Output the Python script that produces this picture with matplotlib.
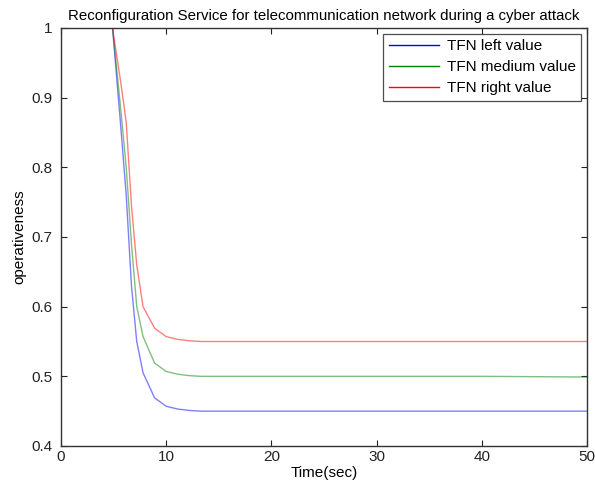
import matplotlib
matplotlib.use("Agg")
import matplotlib.pyplot as plt
from matplotlib.ticker import FixedLocator, FixedFormatter

plt.rcParams['font.family'] = ['Liberation Sans', 'DejaVu Sans']

# Simulation time (s) and operativeness for each TFN bound
time_sec = [0, 4.9, 5.7, 6.2, 6.7, 7.2, 7.8, 8.9, 10.0, 11.1, 12.2, 13.3, 20, 30, 40, 50]
tfn_left = [1.0, 1.0, 0.855, 0.76, 0.63, 0.55, 0.505, 0.469, 0.457, 0.453, 0.451, 0.45,
            0.45, 0.45, 0.45, 0.45]
tfn_medium = [1.0, 1.0, 0.88, 0.80, 0.69, 0.60, 0.557, 0.519, 0.507, 0.503, 0.501, 0.50,
              0.50, 0.50, 0.50, 0.499]
tfn_right = [1.0, 1.0, 0.92, 0.865, 0.745, 0.66, 0.60, 0.569, 0.557, 0.553, 0.551, 0.55,
             0.55, 0.55, 0.55, 0.55]

series_labels = ["TFN left value", "TFN medium value", "TFN right value"]
series_colors = ["#0000ff", "#008000", "#ff0000"]

x_ticks = [0, 10, 20, 30, 40, 50]
y_ticks = [0.4, 0.5, 0.6, 0.7, 0.8, 0.9, 1.0]
y_tick_labels = ["0.4", "0.5", "0.6", "0.7", "0.8", "0.9", "1"]

fig = plt.figure(figsize=(5.95, 4.9), dpi=100)
ax = fig.add_axes([0.1025, 0.0898, 0.8841, 0.8531])

for values, label, color in zip([tfn_left, tfn_medium, tfn_right], series_labels, series_colors):
    ax.plot(time_sec, values, color=color, lw=1.0, alpha=0.5, label=label)

ax.set_xlim(0, 50)
ax.set_ylim(0.4, 1.0)
ax.xaxis.set_major_locator(FixedLocator(x_ticks))
ax.yaxis.set_major_locator(FixedLocator(y_ticks))
ax.yaxis.set_major_formatter(FixedFormatter(y_tick_labels))
ax.tick_params(direction='in', length=4, width=0.8, top=True, right=True,
               labelsize=11, colors='#222222')
ax.tick_params(axis='y', pad=6)
ax.tick_params(axis='x', pad=3)

for sp in ax.spines.values():
    sp.set_color('#333333')
    sp.set_linewidth(1.0)

ax.set_title("Reconfiguration Service for telecommunication network during a cyber attack",
             fontsize=10.8, pad=6)
ax.set_xlabel("Time(sec)", fontsize=11, labelpad=1)
ax.set_ylabel("operativeness", fontsize=11, labelpad=4)

leg = ax.legend(loc='upper right', fontsize=11, frameon=True, fancybox=False,
                edgecolor='#222222', borderaxespad=0.4, handlelength=3.3,
                borderpad=0.35, labelspacing=0.45, handletextpad=0.5)
leg.get_frame().set_linewidth(0.9)
for h in leg.get_lines():
    h.set_alpha(1.0)

fig.savefig("out.png", dpi=100)
